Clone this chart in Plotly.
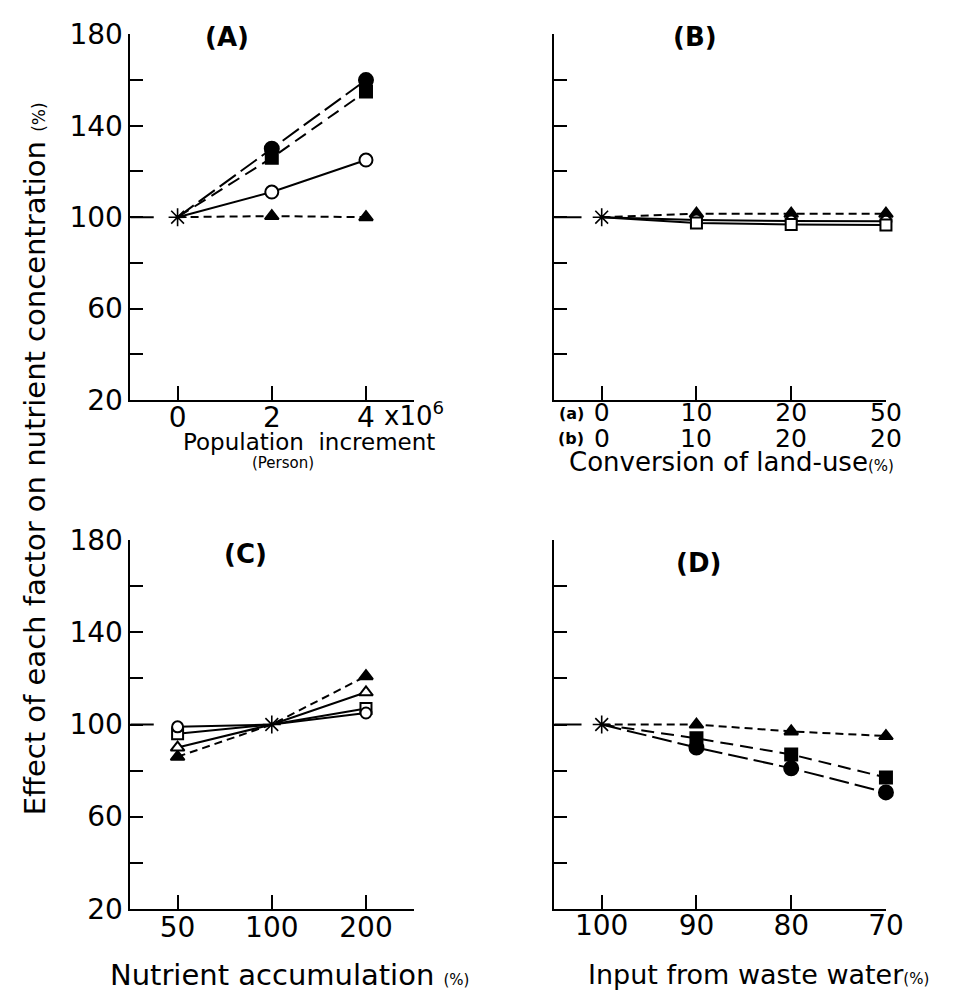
import plotly.graph_objects as go

# ---------------- data ----------------
# Panel A: population increment (x10^6 persons)
A_x = [0, 2, 4]
A_ticks = ["0", "2", "4"]
A_filled_circle = [100, 130, 160]
A_filled_square = [100, 126, 155]
A_open_circle = [100, 111, 125]
A_filled_triangle = [100, 100.5, 100]

# Panel B: conversion of land-use (%), categories
B_x = [0, 1, 2, 3]
B_ticks_a = ["0", "10", "20", "50"]
B_ticks_b = ["0", "10", "20", "20"]
B_filled_triangle = [100, 101.5, 101.5, 101.5]
B_open_circle = [100, 98.8, 98.3, 98.2]
B_open_square = [100, 97.5, 96.8, 96.6]

# Panel C: nutrient accumulation (%)
C_x = [0, 1, 2]
C_ticks = ["50", "100", "200"]
C_filled_triangle = [86, 100, 121]
C_open_triangle = [90, 100, 114]
C_open_square = [96, 100, 107]
C_open_circle = [99, 100, 105]

# Panel D: input from waste water (%)
D_x = [0, 1, 2, 3]
D_ticks = ["100", "90", "80", "70"]
D_filled_triangle = [100, 100, 97, 95]
D_filled_square = [100, 94, 87, 77]
D_filled_circle = [100, 90, 81, 70.5]

Y_MAJOR = [20, 60, 100, 140, 180]
Y_MINOR = [40, 80, 120, 160]

W, H = 953, 1008
FONT = "DejaVu Sans"


def px_x(p):
    return p / W


def px_y(p):
    return 1 - p / H


fig = go.Figure()


def series(xs, ys, xa, ya, symbol, size, dash, origin_idx=0, filled=True):
    sizes = [0 if i == origin_idx else size for i in range(len(xs))]
    fig.add_trace(go.Scatter(
        x=xs, y=ys, xaxis=xa, yaxis=ya, mode="lines+markers",
        line=dict(color="#000", width=2, dash=dash),
        marker=dict(symbol=symbol, size=sizes, opacity=1,
                    color="#000" if filled else "#fff",
                    line=dict(color="#000", width=2)),
        cliponaxis=False, showlegend=False, hoverinfo="skip"))


def origin(x, y, xa, ya):
    fig.add_trace(go.Scatter(
        x=[x], y=[y], xaxis=xa, yaxis=ya, mode="markers",
        marker=dict(symbol="asterisk-open", size=15, color="#000",
                    line=dict(color="#000", width=1.6)),
        cliponaxis=False, showlegend=False, hoverinfo="skip"))


LONG = "20px,6px"
MED = "13px,7px"
SHORT = "8px,5px"

# Panel A
series(A_x, A_filled_circle, "x", "y", "circle", 14, LONG)
series(A_x, A_filled_square, "x", "y", "square", 12, MED)
series(A_x, A_open_circle, "x", "y", "circle", 13, "solid", filled=False)
series(A_x, A_filled_triangle, "x", "y", "triangle-up", 12, SHORT)
origin(A_x[0], A_filled_circle[0], "x", "y")

# Panel B
series(B_x, B_filled_triangle, "x2", "y2", "triangle-up", 12, SHORT)
series(B_x, B_open_circle, "x2", "y2", "circle", 11, "solid", filled=False)
series(B_x, B_open_square, "x2", "y2", "square", 11, "solid", filled=False)
origin(B_x[0], B_filled_triangle[0], "x2", "y2")

# Panel C (origin is the middle point, 100 %)
series(C_x, C_filled_triangle, "x3", "y3", "triangle-up", 12, SHORT, origin_idx=1)
series(C_x, C_open_triangle, "x3", "y3", "triangle-up", 12, "solid", origin_idx=1, filled=False)
series(C_x, C_open_square, "x3", "y3", "square", 11, "solid", origin_idx=1, filled=False)
series(C_x, C_open_circle, "x3", "y3", "circle", 11, "solid", origin_idx=1, filled=False)
origin(C_x[1], C_filled_triangle[1], "x3", "y3")

# Panel D
series(D_x, D_filled_triangle, "x4", "y4", "triangle-up", 12, SHORT)
series(D_x, D_filled_square, "x4", "y4", "square", 12, MED)
series(D_x, D_filled_circle, "x4", "y4", "circle", 14, LONG)
origin(D_x[0], D_filled_triangle[0], "x4", "y4")

axis_common = dict(showline=True, linewidth=2, linecolor="black", ticks="inside",
                   tickwidth=2, tickcolor="black", showgrid=False, zeroline=False,
                   tickfont=dict(family=FONT, size=28, color="black"))
y_common = dict(axis_common, range=[20, 180], tickvals=Y_MAJOR, ticklen=13,
                minor=dict(tickvals=Y_MINOR, ticks="inside", ticklen=13, tickwidth=2,
                           tickcolor="black", showgrid=False))

LEFT = [px_x(133), px_x(422)]
RIGHT = [px_x(565), px_x(903)]
TOP = [px_y(397), px_y(19)]
BOT = [px_y(923), px_y(542)]

fig.update_layout(
    width=W, height=H, margin=dict(l=0, r=0, t=0, b=0),
    plot_bgcolor="white", paper_bgcolor="white", showlegend=False,
    xaxis=dict(axis_common, domain=LEFT, range=[-1, 5.02], anchor="y",
               tickvals=A_x, ticktext=A_ticks, ticklen=14, ticklabelstandoff=-9),
    yaxis=dict(y_common, domain=TOP, anchor="x"),
    xaxis2=dict(axis_common, domain=RIGHT, range=[-0.5, 3.0], anchor="y2",
                tickvals=B_x, ticktext=B_ticks_a, ticklen=14, ticklabelstandoff=-11,
                tickfont=dict(family=FONT, size=25, color="black")),
    yaxis2=dict(y_common, domain=TOP, anchor="x2", showticklabels=False),
    xaxis3=dict(axis_common, domain=LEFT, range=[-0.5, 2.51], anchor="y3",
                tickvals=C_x, ticktext=C_ticks, ticklen=14, ticklabelstandoff=-7),
    yaxis3=dict(y_common, domain=BOT, anchor="x3"),
    xaxis4=dict(axis_common, domain=RIGHT, range=[-0.5, 3.0], anchor="y4",
                tickvals=D_x, ticktext=D_ticks, ticklen=14, ticklabelstandoff=-9),
    yaxis4=dict(y_common, domain=BOT, anchor="x4", showticklabels=False),
)

# longer tick at 100 on every y-axis
for xa, ya in [("x", "y"), ("x2", "y2"), ("x3", "y3"), ("x4", "y4")]:
    fig.add_shape(type="line", xref=xa + " domain", yref=ya, x0=0, x1=0.082,
                  y0=100, y1=100, line=dict(color="black", width=2))

ann = []


def text(x, y, t, size, xref="paper", yref="paper", bold=False, xanchor="center",
         yanchor="middle", angle=0):
    ann.append(dict(x=x, y=y, xref=xref, yref=yref, text=t, showarrow=False,
                    xanchor=xanchor, yanchor=yanchor, textangle=angle,
                    font=dict(family=FONT, size=size, color="black",
                              weight="bold" if bold else "normal")))


# panel titles
text(1.05, px_y(22), "(A)", 26, xref="x", bold=True)
text(0.98, px_y(22), "(B)", 26, xref="x2", bold=True)
text(0.72, px_y(556), "(C)", 26, xref="x3", bold=True)
text(1.02, px_y(566), "(D)", 26, xref="x4", bold=True)

# x10^6 beside the last tick label of panel A
text(px_x(389), px_y(411), "x10<sup>6</sup>", 26, xanchor="left")

# panel B second row of tick labels and row markers
for xv, t in zip(B_x, B_ticks_b):
    text(xv, px_y(437), t, 25, xref="x2")
text(px_x(582), px_y(411), "(a)", 16, bold=True)
text(px_x(582), px_y(437), "(b)", 16, bold=True)

# axis titles
text(px_x(315), px_y(440), "Population  increment", 23)
text(px_x(288), px_y(462), "(Person)", 15)
text(px_x(746), px_y(461), "Conversion of land-use<span style='font-size:15px'>(%)</span>", 26)
text(px_x(295), px_y(991), "Nutrient accumulation <span style='font-size:15px'>(%)</span>", 29)
text(px_x(773), px_y(991), "Input from waste water<span style='font-size:15px'>(%)</span>", 27)
text(px_x(36), px_y(458),
     "Effect of each factor on nutrient concentration <span style='font-size:17px'>(%)</span>",
     29, angle=-90)

fig.update_layout(annotations=ann)

fig.write_html("out.html", config={"displayModeBar": False},
               post_script="document.body.style.margin='0';")
